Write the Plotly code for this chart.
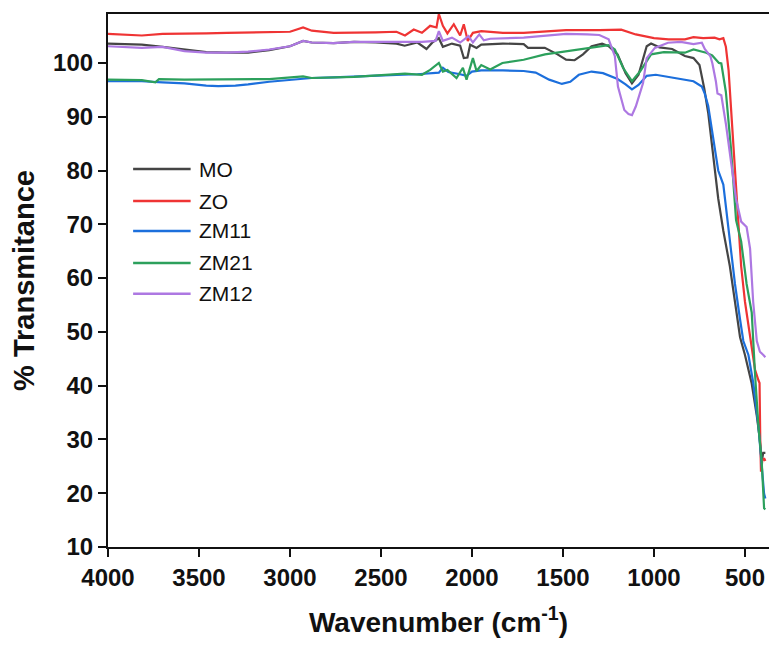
import plotly.graph_objects as go

# FTIR spectra: wavenumber (cm^-1) vs % transmittance
mo_wn = [4000, 3900, 3814, 3700, 3580, 3460, 3347, 3230, 3114, 3000, 2928, 2881, 2760, 2648,
         2530, 2415, 2370, 2300, 2250, 2215, 2182, 2160, 2110, 2065, 2045, 2025, 2010, 1975,
         1949, 1830, 1716, 1692, 1600, 1530, 1483, 1436, 1390, 1343, 1285, 1249, 1200, 1156,
         1121, 1085, 1040, 1016, 970, 900, 830, 783, 750, 724, 702, 674, 647, 619, 583, 555,
         527, 500, 463, 435, 420, 408, 400, 388]
mo_t = [103.6, 103.5, 103.4, 103.0, 102.5, 102.0, 101.9, 101.9, 102.4, 103.1, 104.1, 103.8,
        103.7, 103.9, 103.8, 103.6, 103.2, 103.8, 102.6, 103.9, 104.6, 103.0, 103.6, 103.2,
        100.9, 101.0, 103.4, 102.8, 103.4, 103.6, 103.5, 102.8, 102.8, 101.6, 100.6, 100.5,
        101.6, 103.1, 103.6, 103.1, 101.6, 98.1, 96.2, 97.8, 103.1, 103.6, 102.9, 102.6,
        101.3, 100.9, 99.6, 95.3, 90.7, 82.0, 74.8, 68.8, 62.2, 55.6, 49.0, 45.7, 40.4, 34.4,
        30.5, 25.8, 27.5, 27.5]

zo_wn = [4000, 3900, 3814, 3700, 3580, 3460, 3347, 3230, 3114, 3000, 2928, 2880, 2760, 2648,
         2530, 2415, 2368, 2320, 2275, 2230, 2195, 2182, 2160, 2135, 2100, 2065, 2045, 2023,
         1995, 1949, 1830, 1716, 1600, 1483, 1300, 1180, 1100, 1000, 920, 830, 783, 730, 667,
         640, 619, 605, 590, 577, 555, 538, 521, 500, 472, 445, 426, 420, 416, 412, 405, 395, 388]
zo_t = [105.4, 105.2, 105.1, 105.4, 105.4, 105.5, 105.6, 105.7, 105.8, 105.8, 106.6, 106.0,
        105.6, 105.6, 105.7, 105.8, 105.1, 106.2, 105.6, 106.9, 106.6, 109.1, 106.9, 105.5,
        107.2, 105.1, 107.2, 104.1, 105.6, 105.9, 105.6, 105.6, 105.9, 106.1, 106.1, 106.2,
        105.3, 104.6, 104.4, 104.4, 104.8, 104.6, 104.7, 104.4, 104.6, 103.0, 98.6, 92.0,
        81.5, 70.8, 62.2, 55.6, 49.0, 43.0, 41.0, 40.5, 30.0, 24.0, 26.0, 26.5, 26.0]

zm11_wn = [4000, 3814, 3700, 3580, 3460, 3394, 3300, 3230, 3114, 3000, 2881, 2760, 2648, 2530,
           2415, 2300, 2182, 2160, 2130, 2065, 2030, 2000, 1949, 1830, 1716, 1650, 1576, 1506,
           1460, 1413, 1343, 1280, 1200, 1156, 1121, 1085, 1040, 990, 923, 830, 783, 737, 721,
           702, 674, 647, 619, 592, 555, 527, 509, 481, 454, 426, 408, 395, 388]
zm11_t = [96.6, 96.6, 96.4, 96.2, 95.8, 95.7, 95.8, 96.0, 96.5, 96.8, 97.2, 97.3, 97.5, 97.6,
          97.8, 97.9, 98.2, 99.1, 98.3, 97.9, 97.6, 98.4, 98.6, 98.6, 98.5, 98.2, 96.9, 96.1,
          96.5, 97.8, 98.4, 98.1, 97.0, 96.0, 95.1, 95.9, 97.6, 97.8, 97.4, 96.9, 96.6, 95.6,
          94.3, 92.0, 85.4, 80.0, 77.4, 69.5, 58.9, 52.3, 48.3, 45.7, 40.4, 32.4, 24.5, 19.9, 19.0]

zm21_wn = [4000, 3814, 3740, 3720, 3580, 3347, 3114, 2928, 2881, 2648, 2415, 2368, 2275, 2230,
           2182, 2160, 2135, 2085, 2050, 2030, 1995, 1975, 1949, 1900, 1833, 1716, 1599, 1483,
           1366, 1249, 1215, 1170, 1121, 1075, 1016, 946, 830, 783, 713, 680, 643, 630, 605,
           577, 549, 521, 491, 463, 445, 426, 408, 395, 388]
zm21_t = [96.9, 96.8, 96.4, 97.0, 96.9, 96.9, 97.0, 97.5, 97.2, 97.4, 97.8, 98.0, 97.8, 98.7,
          100.0, 98.4, 98.7, 97.2, 99.1, 96.9, 100.9, 98.5, 99.6, 98.8, 100.0, 100.6, 101.6,
          102.2, 102.8, 103.3, 102.5, 99.1, 96.6, 98.5, 101.6, 102.0, 101.9, 102.5, 101.9,
          101.4, 100.0, 99.9, 94.6, 84.1, 70.8, 66.8, 58.9, 53.6, 42.3, 32.4, 25.8, 17.2, 17.0]

zm12_wn = [4000, 3900, 3814, 3700, 3580, 3460, 3347, 3230, 3114, 3000, 2928, 2881, 2760, 2648,
           2415, 2275, 2200, 2182, 2160, 2110, 2065, 2019, 1995, 1960, 1935, 1900, 1716, 1599,
           1483, 1366, 1300, 1249, 1215, 1198, 1163, 1140, 1121, 1100, 1060, 1040, 995, 923,
           853, 783, 737, 721, 690, 679, 660, 651, 630, 605, 577, 549, 521, 491, 472, 455, 435,
           418, 399, 388]
zm12_t = [103.1, 102.9, 102.8, 103.0, 102.2, 101.9, 101.9, 102.1, 102.5, 103.1, 104.1, 103.8,
          103.7, 103.9, 103.9, 103.9, 104.1, 105.9, 104.1, 104.7, 103.8, 105.0, 103.8, 105.3,
          104.2, 104.5, 104.7, 105.1, 105.4, 105.3, 105.2, 104.4, 101.25, 95.6, 91.25, 90.5,
          90.3, 91.9, 96.25, 100.9, 102.8, 103.75, 103.9, 103.5, 103.75, 102.6, 101.25, 99.9,
          96.6, 94.3, 94.0, 88.7, 82.0, 74.7, 70.5, 69.5, 65.5, 55.6, 48.3, 46.3, 45.7, 45.3]

names = ["MO", "ZO", "ZM11", "ZM21", "ZM12"]
colors = ["#454545", "#ef3434", "#1c6fdc", "#2ca05c", "#ad78e2"]
series = [(mo_wn, mo_t), (zo_wn, zo_t), (zm11_wn, zm11_t), (zm21_wn, zm21_t), (zm12_wn, zm12_t)]

x_ticks = [4000, 3500, 3000, 2500, 2000, 1500, 1000, 500]
y_ticks = [10, 20, 30, 40, 50, 60, 70, 80, 90, 100]

FONT = "Liberation Sans, Arial, sans-serif"

fig = go.Figure()
for (wn, t), name, color in zip(series, names, colors):
    fig.add_trace(go.Scatter(x=wn, y=t, mode="lines", name=name,
                             line=dict(color=color, width=2.2), showlegend=False))

# legend drawn as line samples with labels
legend_y = [0.709, 0.649, 0.593, 0.533, 0.475]
for name, color, ly in zip(names, colors, legend_y):
    fig.add_shape(type="line", xref="paper", yref="paper", x0=0.038, x1=0.125, y0=ly, y1=ly,
                  line=dict(color=color, width=2.5))
    fig.add_annotation(xref="paper", yref="paper", x=0.134, y=ly, text=name, showarrow=False,
                       xanchor="left", yanchor="middle",
                       font=dict(family=FONT, size=21, color="#111111"))

fig.update_layout(
    width=769, height=646,
    margin=dict(l=108, r=0, t=14, b=99),
    paper_bgcolor="white", plot_bgcolor="white",
    font=dict(family=FONT, color="#111111"),
    xaxis=dict(range=[4000, 368], tickvals=x_ticks, ticks="outside", ticklen=8, tickwidth=2,
               tickcolor="#111111", showline=True, linecolor="#111111", linewidth=2.2,
               mirror=True, showgrid=False, zeroline=False,
               tickfont=dict(family=FONT, size=24, weight="bold", color="#111111"),
               title=dict(text="Wavenumber (cm<sup>-1</sup>)", standoff=22,
                          font=dict(family=FONT, size=28, weight="bold", color="#111111"))),
    yaxis=dict(range=[10, 109.1], tickvals=y_ticks, ticks="outside", ticklen=8, tickwidth=2,
               tickcolor="#111111", showline=True, linecolor="#111111", linewidth=2.2,
               showgrid=False, zeroline=False,
               tickfont=dict(family=FONT, size=24, weight="bold", color="#111111"),
               title=dict(text="% Transmitance", standoff=10,
                          font=dict(family=FONT, size=29, weight="bold", color="#111111"))),
)

fig.write_html("out.html")
